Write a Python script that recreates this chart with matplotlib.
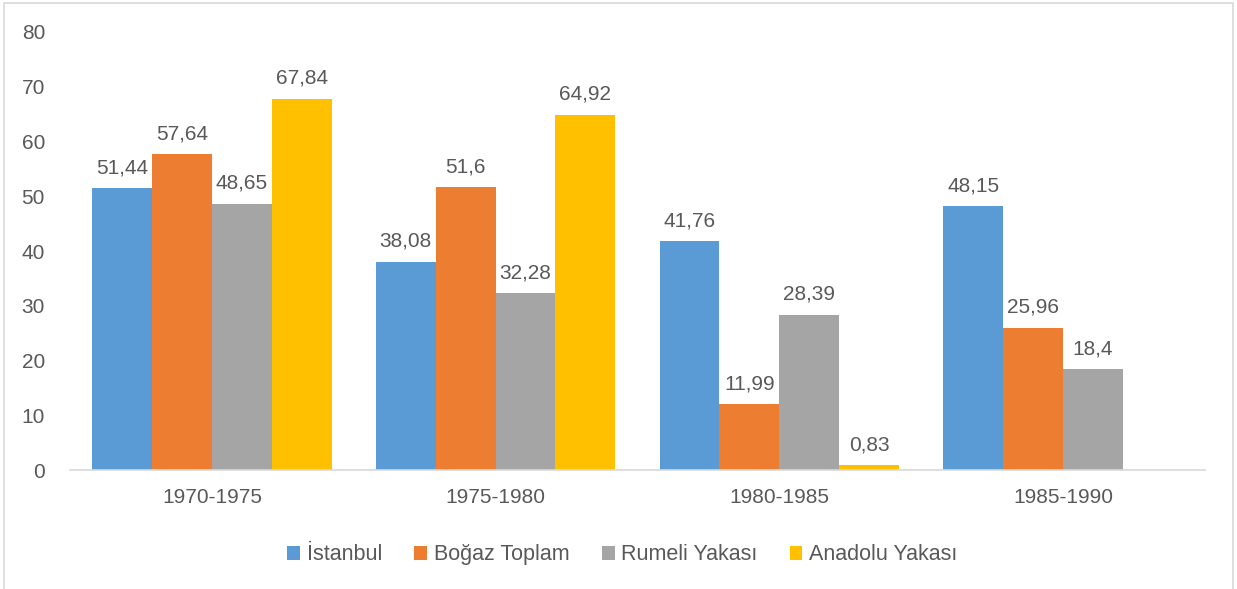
import matplotlib.pyplot as plt
from matplotlib.patches import Rectangle
import numpy as np

plt.rcParams['font.family'] = ['Liberation Sans', 'DejaVu Sans']

periods = ['1970-1975', '1975-1980', '1980-1985', '1985-1990']
series = ['İstanbul', 'Boğaz Toplam', 'Rumeli Yakası', 'Anadolu Yakası']
istanbul = [51.44, 38.08, 41.76, 48.15]
bogaz = [57.64, 51.6, 11.99, 25.96]
rumeli = [48.65, 32.28, 28.39, 18.4]
anadolu = [67.84, 64.92, 0.83, None]
colors = ['#5B9BD5', '#ED7D31', '#A5A5A5', '#FFC000']

txt = '#595959'

fig = plt.figure(figsize=(12.37, 5.89), dpi=100)
ax = fig.add_axes([0.0566, 0.202, 0.9175, 0.7437])

# light border around the chart area
fig.patches.append(Rectangle((0.0035, -0.05), 0.9935, 1.045, transform=fig.transFigure,
                             fill=False, edgecolor='#D9D9D9', linewidth=1.2))

x = np.arange(len(periods))
w = 0.211
for i, (vals, name) in enumerate(zip([istanbul, bogaz, rumeli, anadolu], series)):
    xs = [xx + (i - 1.5) * w for xx, v in zip(x, vals) if v is not None]
    vs = [v for v in vals if v is not None]
    bars = ax.bar(xs, vs, width=w, color=colors[i], label=name)
    for b, v in zip(bars, vs):
        lab = ('%g' % v).replace('.', ',')
        ax.annotate(lab, (b.get_x() + b.get_width() / 2, v), xytext=(0, 8),
                    textcoords='offset points', ha='center', va='bottom',
                    fontsize=15, color=txt)

ax.set_xlim(-0.5, 3.5)
ax.set_ylim(0, 80)
ax.set_yticks(range(0, 81, 10))
ax.set_xticks(x)
ax.set_xticklabels(periods)
ax.tick_params(axis='both', length=0, labelsize=15, colors=txt)
ax.tick_params(axis='x', pad=13)
ax.tick_params(axis='y', pad=18)
for s in ['top', 'right', 'left']:
    ax.spines[s].set_visible(False)
ax.spines['bottom'].set_color('#D9D9D9')
ax.spines['bottom'].set_linewidth(1.2)

fig.legend(loc='center', bbox_to_anchor=(0.503, 0.058), ncol=4, frameon=False,
           fontsize=15.5, labelcolor=txt, handlelength=0.6, handleheight=0.6,
           handletextpad=0.3, columnspacing=1.5)

fig.savefig('out.png', dpi=100)
